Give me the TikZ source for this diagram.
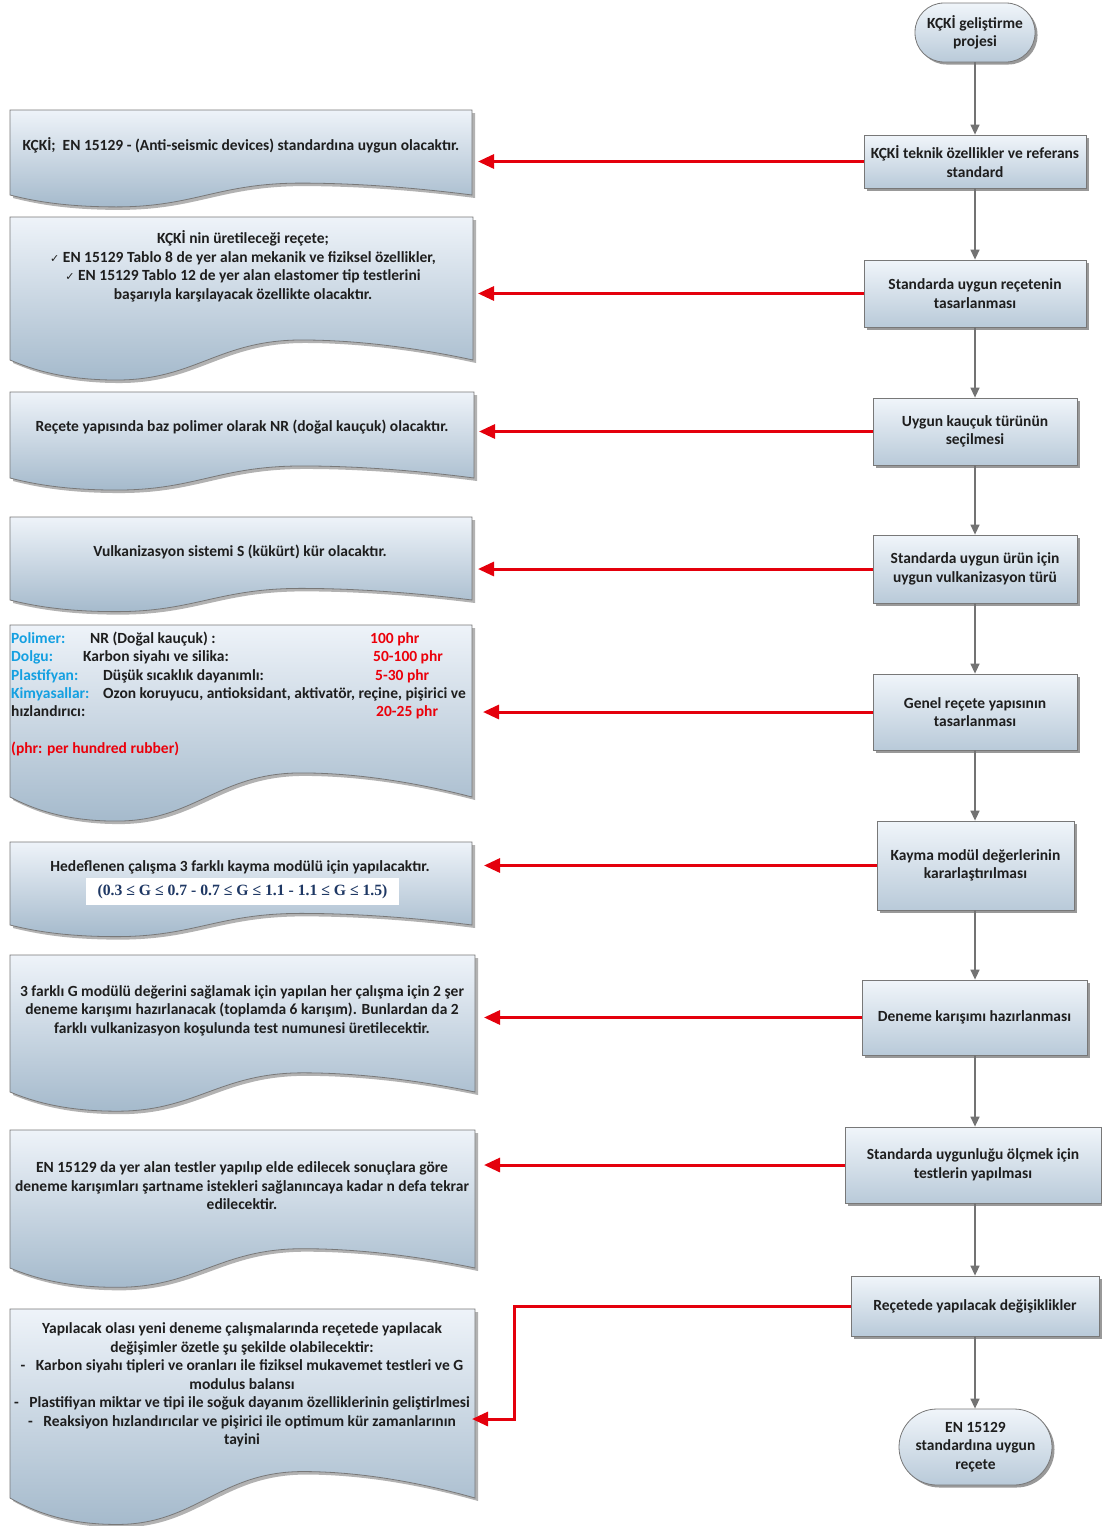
\documentclass[tikz,border=0pt]{standalone}
\usepackage{fontspec}
\setmainfont{Carlito}
\newfontfamily\formfont{Liberation Serif}
\newfontfamily\symfont{DejaVu Sans}
\usetikzlibrary{arrows.meta,shadows,calc}
\definecolor{docTop}{RGB}{238,243,249}
\definecolor{docBot}{RGB}{165,186,204}
\definecolor{boxTop}{RGB}{240,245,250}
\definecolor{boxBot}{RGB}{185,202,217}
\definecolor{bordergray}{RGB}{120,120,120}
\definecolor{arrowgray}{RGB}{115,115,115}
\definecolor{arrowred}{RGB}{228,0,12}
\definecolor{lblblue}{RGB}{20,160,225}
\definecolor{valred}{RGB}{235,0,10}
\definecolor{formblue}{RGB}{31,56,100}
\definecolor{textdark}{RGB}{30,30,30}
\newcommand\bodyfont{\fontsize{15.5}{18.5}\selectfont\bfseries}
\newcommand\chk{{\symfont\fontsize{11}{11}\selectfont ✓}}
% #1 x0, #2 x1, #3 top, #4 y of bottom corners
\newcommand\docshape[4]{%
  \pgfmathsetmacro\dW{#2-#1}%
  \pgfmathsetmacro\dA{0.14*(#4-#3)}%
  \pgfmathsetmacro\xa{#2-0.12*\dW}%
  \pgfmathsetmacro\xb{#1+0.75*\dW}%
  \pgfmathsetmacro\xm{#1+0.63*\dW}%
  \pgfmathsetmacro\xc{#1+0.45*\dW}%
  \pgfmathsetmacro\xd{#1+0.40*\dW}%
  \pgfmathsetmacro\xn{#1+0.23*\dW}%
  \pgfmathsetmacro\xe{#1+0.12*\dW}%
  \pgfmathsetmacro\xf{#1+0.05*\dW}%
  \pgfmathsetmacro\yu{#4-\dA}%
  \pgfmathsetmacro\yv{#4+\dA}%
  \pgfmathsetmacro\yuh{#4-0.6*\dA}%
  \pgfmathsetmacro\yvh{#4+0.5*\dA}%
  \def\docp{(#1,#3) -- (#2,#3) -- (#2,#4) .. controls (\xa,\yuh) and (\xb,\yu) .. (\xm,\yu)
     .. controls (\xc,\yu) and (\xd,\yv) .. (\xn,\yv)
     .. controls (\xe,\yv) and (\xf,\yvh) .. (#1,#4) -- cycle}%
  \fill[black, opacity=0.3, shift={(3,3)}] \docp;
  \path[draw=bordergray, line width=0.8pt, top color=docTop, bottom color=docBot] \docp;
}
\tikzset{
  proc/.style={draw=bordergray, line width=0.8pt, top color=boxTop, bottom color=boxBot,
    align=center, font=\bodyfont, text=textdark, inner sep=2pt,
    drop shadow={shadow xshift=2.5pt, shadow yshift=-2.5pt, opacity=0.4, fill=black}},
  flow/.style={-{Triangle[length=10pt,width=9pt]}, draw=arrowgray, line width=1.4pt},
  redarrow/.style={-{Triangle[length=16pt,width=14pt]}, draw=arrowred, line width=3pt},
  doctext/.style={align=center, font=\bodyfont, text=textdark, inner sep=0pt},
  lbl/.style={anchor=base west, font=\bodyfont, text=lblblue, inner sep=0pt},
  plain/.style={anchor=base west, font=\bodyfont, text=textdark, inner sep=0pt},
  val/.style={anchor=base west, font=\bodyfont, text=valred, inner sep=0pt},
}
\begin{document}
\begin{tikzpicture}[x=1pt,y=-1pt]
\useasboundingbox (0,0) rectangle (1102,1526);
\clip (0,0) rectangle (1102,1526);
\fill[white] (0,0) rectangle (1102,1526);

% ---------- document shapes ----------
\docshape{10}{472}{110}{195}
\docshape{10}{473}{217}{360}
\docshape{10}{474}{392}{478}
\docshape{10}{472}{517}{600}
\docshape{10}{472}{625}{797}
\docshape{10}{472}{842}{925}
\docshape{10}{475}{955}{1092}
\docshape{10}{475}{1130}{1268}
\docshape{10}{475}{1309}{1498}

% ---------- document texts ----------
\node[doctext] (d1) at (241,145) {KÇKİ;\ \ EN 15129 - (Anti-seismic devices) standardına uygun olacaktır.};
\node[doctext] (d2) at (243,266.5) {KÇKİ nin üretileceği reçete;\\
  \chk\ EN 15129 Tablo 8 de yer alan mekanik ve fiziksel özellikler,\\
  \chk\ EN 15129 Tablo 12 de yer alan elastomer tip testlerini\\
  başarıyla karşılayacak özellikte olacaktır.};
\node[doctext] (d3) at (242,427) {Reçete yapısında baz polimer olarak NR (doğal kauçuk) olacaktır.};
\node[doctext] (d4) at (240,552) {Vulkanizasyon sistemi S (kükürt) kür olacaktır.};

\node[lbl] (l1) at (11,643) {Polimer:};
\node[plain] (t1) at (90,643) {NR (Doğal kauçuk) :};
\node[val] (v1) at (370,643) {100 phr};
\node[lbl] (l2) at (11,661) {Dolgu:};
\node[plain] (t2) at (83,661) {Karbon siyahı ve silika:};
\node[val] (v2) at (373,661) {50-100 phr};
\node[lbl] (l3) at (11,680) {Plastifyan:};
\node[plain] (t3) at (103,680) {Düşük sıcaklık dayanımlı:};
\node[val] (v3) at (375,680) {5-30 phr};
\node[lbl] (l4) at (11,698) {Kimyasallar:};
\node[plain] (t4) at (103,698) {Ozon koruyucu, antioksidant, aktivatör, reçine, pişirici ve};
\node[plain] (t5) at (11,716) {hızlandırıcı:};
\node[val] (v4) at (376,716) {20-25 phr};
\node[val] (v5) at (11,753) {(phr: per hundred rubber)};

\node[doctext] (d6) at (240,867) {Hedeflenen çalışma 3 farklı kayma modülü için yapılacaktır.};
\node[fill=white, minimum width=313pt, minimum height=27pt, inner sep=0pt, text=formblue,
  font=\formfont\bfseries\fontsize{15.7}{17}\selectfont] (f6) at (242.5,891.5)
  {(0.3 ≤ G ≤ 0.7 - 0.7 ≤ G ≤ 1.1 - 1.1 ≤ G ≤ 1.5)};

\node[doctext] (d7) at (242,1010.5) {3 farklı G modülü değerini sağlamak için yapılan her çalışma için 2 şer\\
  deneme karışımı hazırlanacak (toplamda 6 karışım). Bunlardan da 2\\
  farklı vulkanizasyon koşulunda test numunesi üretilecektir.};
\node[doctext] (d8) at (242,1186) {EN 15129 da yer alan testler yapılıp elde edilecek sonuçlara göre\\
  deneme karışımları şartname istekleri sağlanıncaya kadar n defa tekrar\\
  edilecektir.};
\node[doctext] (d9) at (242,1385) {Yapılacak olası yeni deneme çalışmalarında reçetede yapılacak\\
  değişimler özetle şu şekilde olabilecektir:\\
  -\ \ \ Karbon siyahı tipleri ve oranları ile fiziksel mukavemet testleri ve G\\
  modulus balansı\\
  -\ \ \ Plastifiyan miktar ve tipi ile soğuk dayanım özelliklerinin geliştirlmesi\\
  -\ \ \ Reaksiyon hızlandırıcılar ve pişirici ile optimum kür zamanlarının\\
  tayini};

% ---------- process column ----------
\node[proc, minimum width=120pt, minimum height=59pt, rounded corners=29pt] (b0) at (975,32.5) {KÇKİ geliştirme\\projesi};
\node[proc, minimum width=222pt, minimum height=53pt] (b1) at (975,161.5) {KÇKİ teknik özellikler ve referans\\standard};
\node[proc, minimum width=222pt, minimum height=67pt] (b2) at (975,293.5) {Standarda uygun reçetenin\\tasarlanması};
\node[proc, minimum width=204pt, minimum height=67pt] (b3) at (975,431.5) {Uygun kauçuk türünün\\seçilmesi};
\node[proc, minimum width=204pt, minimum height=68pt] (b4) at (975,569) {Standarda uygun ürün için\\uygun vulkanizasyon türü};
\node[proc, minimum width=204pt, minimum height=76pt] (b5) at (975,712) {Genel reçete yapısının\\tasarlanması};
\node[proc, minimum width=197pt, minimum height=89pt] (b6) at (975.5,865.5) {Kayma modül değerlerinin\\kararlaştırılması};
\node[proc, minimum width=225pt, minimum height=75pt] (b7) at (974.5,1017.5) {Deneme karışımı hazırlanması};
\node[proc, minimum width=256pt, minimum height=76pt] (b8) at (973,1165) {Standarda uygunluğu ölçmek için\\testlerin yapılması};
\node[proc, minimum width=248pt, minimum height=60pt] (b9) at (975,1306) {Reçetede yapılacak değişiklikler};
\node[proc, minimum width=153pt, minimum height=76pt, rounded corners=38pt] (b10) at (975.5,1447) {EN 15129\\standardına uygun\\reçete};

\foreach \a/\b in {b0/b1,b1/b2,b2/b3,b3/b4,b4/b5,b5/b6,b6/b7,b7/b8,b8/b9,b9/b10}
  \draw[flow] (\a.south -| 975,0) -- (\b.north -| 975,0);

% ---------- red connectors ----------
\coordinate (r1) at (478,161.5);
\coordinate (r2) at (478,293.5);
\coordinate (r3) at (479,431.5);
\coordinate (r4) at (478,569);
\coordinate (r5) at (483,712);
\coordinate (r6) at (484,865.5);
\coordinate (r7) at (484,1017.5);
\coordinate (r8) at (484,1165);
\coordinate (r9) at (472,1419);
\coordinate (k9) at (514,1306);
\draw[redarrow] (b1.west) -- (r1);
\draw[redarrow] (b2.west) -- (r2);
\draw[redarrow] (b3.west) -- (r3);
\draw[redarrow] (b4.west) -- (r4);
\draw[redarrow] (b5.west) -- (r5);
\draw[redarrow] (b6.west) -- (r6);
\draw[redarrow] (b7.west) -- (r7);
\draw[redarrow] (b8.west) -- (r8);
\draw[redarrow] (b9.west) -- (k9) |- (r9);
\end{tikzpicture}
\end{document}
